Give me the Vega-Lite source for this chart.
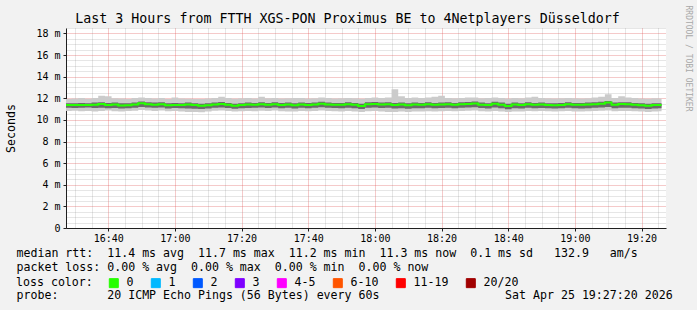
{
  "$schema": "https://vega.github.io/schema/vega-lite/v6.json",
  "width": 600,
  "height": 200,
  "autosize": {"type": "none"},
  "padding": {"left": 66, "top": 28, "right": 31, "bottom": 82},
  "background": "#f2f2f2",
  "config": {
    "view": {"fill": "#ffffff", "stroke": null},
    "axis": {"labelFont": "DejaVu Sans Mono", "labelOverlap": false, "labelFontSize": 10, "labelColor": "#000000"}
  },
  "title": {
    "text": "Last 3 Hours from FTTH XGS-PON Proximus BE to 4Netplayers Düsseldorf",
    "anchor": "middle", "frame": "group", "font": "DejaVu Sans Mono", "fontSize": 13.3,
    "fontWeight": "normal", "color": "#000000", "offset": 2, "dx": -18.5, "dy": 22
  },
  "data": {"values": [
    {"t":"2026-04-25T16:27:00Z","loss":"0","med":11.38,"mn":10.82,"lo":11.12,"hi":11.55,"mx":11.93},
    {"t":"2026-04-25T16:29:00Z","loss":"0","med":11.38,"mn":10.84,"lo":11.10,"hi":11.55,"mx":11.98},
    {"t":"2026-04-25T16:31:00Z","loss":"0","med":11.38,"mn":10.80,"lo":11.12,"hi":11.57,"mx":12.03},
    {"t":"2026-04-25T16:33:00Z","loss":"0","med":11.38,"mn":10.82,"lo":11.15,"hi":11.55,"mx":11.96},
    {"t":"2026-04-25T16:35:00Z","loss":"0","med":11.40,"mn":10.77,"lo":11.10,"hi":11.60,"mx":12.03},
    {"t":"2026-04-25T16:37:00Z","loss":"0","med":11.47,"mn":10.82,"lo":11.12,"hi":11.63,"mx":12.23},
    {"t":"2026-04-25T16:39:00Z","loss":"0","med":11.38,"mn":10.87,"lo":11.08,"hi":11.57,"mx":12.18},
    {"t":"2026-04-25T16:41:00Z","loss":"0","med":11.42,"mn":10.80,"lo":11.10,"hi":11.60,"mx":12.00},
    {"t":"2026-04-25T16:43:00Z","loss":"0","med":11.33,"mn":10.77,"lo":11.05,"hi":11.53,"mx":11.98},
    {"t":"2026-04-25T16:45:00Z","loss":"0","med":11.36,"mn":10.82,"lo":11.08,"hi":11.55,"mx":11.93},
    {"t":"2026-04-25T16:47:00Z","loss":"0","med":11.43,"mn":10.84,"lo":11.12,"hi":11.61,"mx":12.03},
    {"t":"2026-04-25T16:49:00Z","loss":"0","med":11.55,"mn":10.92,"lo":11.20,"hi":11.70,"mx":12.08},
    {"t":"2026-04-25T16:51:00Z","loss":"0","med":11.45,"mn":10.87,"lo":11.15,"hi":11.63,"mx":12.03},
    {"t":"2026-04-25T16:53:00Z","loss":"0","med":11.40,"mn":10.82,"lo":11.12,"hi":11.60,"mx":11.98},
    {"t":"2026-04-25T16:55:00Z","loss":"0","med":11.45,"mn":10.87,"lo":11.15,"hi":11.63,"mx":12.03},
    {"t":"2026-04-25T16:57:00Z","loss":"0","med":11.35,"mn":10.80,"lo":11.05,"hi":11.55,"mx":11.93},
    {"t":"2026-04-25T16:59:00Z","loss":"0","med":11.38,"mn":10.82,"lo":11.10,"hi":11.57,"mx":12.08},
    {"t":"2026-04-25T17:01:00Z","loss":"0","med":11.38,"mn":10.77,"lo":11.08,"hi":11.55,"mx":11.98},
    {"t":"2026-04-25T17:03:00Z","loss":"0","med":11.42,"mn":10.72,"lo":11.05,"hi":11.60,"mx":11.96},
    {"t":"2026-04-25T17:05:00Z","loss":"0","med":11.38,"mn":10.74,"lo":11.02,"hi":11.55,"mx":11.93},
    {"t":"2026-04-25T17:07:00Z","loss":"0","med":11.30,"mn":10.70,"lo":11.00,"hi":11.50,"mx":11.93},
    {"t":"2026-04-25T17:09:00Z","loss":"0","med":11.35,"mn":10.77,"lo":11.05,"hi":11.53,"mx":11.98},
    {"t":"2026-04-25T17:11:00Z","loss":"0","med":11.43,"mn":10.84,"lo":11.12,"hi":11.60,"mx":12.03},
    {"t":"2026-04-25T17:13:00Z","loss":"0","med":11.48,"mn":10.87,"lo":11.15,"hi":11.65,"mx":12.13},
    {"t":"2026-04-25T17:15:00Z","loss":"0","med":11.40,"mn":10.82,"lo":11.10,"hi":11.57,"mx":12.03},
    {"t":"2026-04-25T17:17:00Z","loss":"0","med":11.30,"mn":10.77,"lo":11.02,"hi":11.50,"mx":11.96},
    {"t":"2026-04-25T17:19:00Z","loss":"0","med":11.38,"mn":10.80,"lo":11.08,"hi":11.55,"mx":12.00},
    {"t":"2026-04-25T17:21:00Z","loss":"0","med":11.42,"mn":10.82,"lo":11.10,"hi":11.60,"mx":12.03},
    {"t":"2026-04-25T17:23:00Z","loss":"0","med":11.40,"mn":10.80,"lo":11.12,"hi":11.57,"mx":11.98},
    {"t":"2026-04-25T17:25:00Z","loss":"0","med":11.45,"mn":10.84,"lo":11.15,"hi":11.63,"mx":12.13},
    {"t":"2026-04-25T17:27:00Z","loss":"0","med":11.40,"mn":10.82,"lo":11.10,"hi":11.57,"mx":12.00},
    {"t":"2026-04-25T17:29:00Z","loss":"0","med":11.45,"mn":10.87,"lo":11.15,"hi":11.63,"mx":12.03},
    {"t":"2026-04-25T17:31:00Z","loss":"0","med":11.38,"mn":10.80,"lo":11.08,"hi":11.57,"mx":11.98},
    {"t":"2026-04-25T17:33:00Z","loss":"0","med":11.42,"mn":10.77,"lo":11.12,"hi":11.60,"mx":12.00},
    {"t":"2026-04-25T17:35:00Z","loss":"0","med":11.35,"mn":10.77,"lo":11.05,"hi":11.53,"mx":12.03},
    {"t":"2026-04-25T17:37:00Z","loss":"0","med":11.43,"mn":10.82,"lo":11.12,"hi":11.61,"mx":12.03},
    {"t":"2026-04-25T17:39:00Z","loss":"0","med":11.38,"mn":10.80,"lo":11.08,"hi":11.57,"mx":11.98},
    {"t":"2026-04-25T17:41:00Z","loss":"0","med":11.42,"mn":10.82,"lo":11.12,"hi":11.60,"mx":12.00},
    {"t":"2026-04-25T17:43:00Z","loss":"0","med":11.50,"mn":10.87,"lo":11.18,"hi":11.67,"mx":12.06},
    {"t":"2026-04-25T17:45:00Z","loss":"0","med":11.42,"mn":10.82,"lo":11.12,"hi":11.60,"mx":12.03},
    {"t":"2026-04-25T17:47:00Z","loss":"0","med":11.40,"mn":10.80,"lo":11.10,"hi":11.57,"mx":11.98},
    {"t":"2026-04-25T17:49:00Z","loss":"0","med":11.40,"mn":10.77,"lo":11.08,"hi":11.57,"mx":12.00},
    {"t":"2026-04-25T17:51:00Z","loss":"0","med":11.45,"mn":10.82,"lo":11.12,"hi":11.63,"mx":12.03},
    {"t":"2026-04-25T17:53:00Z","loss":"0","med":11.40,"mn":10.77,"lo":11.08,"hi":11.57,"mx":12.00},
    {"t":"2026-04-25T17:55:00Z","loss":"0","med":11.28,"mn":10.72,"lo":11.00,"hi":11.50,"mx":11.96},
    {"t":"2026-04-25T17:57:00Z","loss":"0","med":11.45,"mn":10.80,"lo":11.12,"hi":11.63,"mx":12.03},
    {"t":"2026-04-25T17:59:00Z","loss":"0","med":11.48,"mn":10.82,"lo":11.15,"hi":11.65,"mx":12.08},
    {"t":"2026-04-25T18:01:00Z","loss":"0","med":11.42,"mn":10.77,"lo":11.10,"hi":11.60,"mx":12.03},
    {"t":"2026-04-25T18:03:00Z","loss":"0","med":11.45,"mn":10.72,"lo":11.12,"hi":11.63,"mx":12.08},
    {"t":"2026-04-25T18:05:00Z","loss":"0","med":11.38,"mn":10.74,"lo":11.05,"hi":11.57,"mx":12.83},
    {"t":"2026-04-25T18:07:00Z","loss":"0","med":11.42,"mn":10.77,"lo":11.08,"hi":11.60,"mx":12.18},
    {"t":"2026-04-25T18:09:00Z","loss":"0","med":11.35,"mn":10.72,"lo":11.02,"hi":11.55,"mx":12.03},
    {"t":"2026-04-25T18:11:00Z","loss":"0","med":11.42,"mn":10.77,"lo":11.08,"hi":11.60,"mx":12.08},
    {"t":"2026-04-25T18:13:00Z","loss":"0","med":11.40,"mn":10.77,"lo":11.08,"hi":11.57,"mx":12.03},
    {"t":"2026-04-25T18:15:00Z","loss":"0","med":11.45,"mn":10.80,"lo":11.12,"hi":11.63,"mx":12.06},
    {"t":"2026-04-25T18:17:00Z","loss":"0","med":11.40,"mn":10.77,"lo":11.08,"hi":11.57,"mx":12.13},
    {"t":"2026-04-25T18:19:00Z","loss":"0","med":11.42,"mn":10.80,"lo":11.10,"hi":11.60,"mx":12.23},
    {"t":"2026-04-25T18:21:00Z","loss":"0","med":11.45,"mn":10.82,"lo":11.12,"hi":11.63,"mx":12.03},
    {"t":"2026-04-25T18:23:00Z","loss":"0","med":11.40,"mn":10.80,"lo":11.08,"hi":11.57,"mx":12.00},
    {"t":"2026-04-25T18:25:00Z","loss":"0","med":11.45,"mn":10.82,"lo":11.12,"hi":11.63,"mx":12.03},
    {"t":"2026-04-25T18:27:00Z","loss":"0","med":11.48,"mn":10.84,"lo":11.15,"hi":11.65,"mx":12.06},
    {"t":"2026-04-25T18:29:00Z","loss":"0","med":11.52,"mn":10.87,"lo":11.18,"hi":11.70,"mx":12.08},
    {"t":"2026-04-25T18:31:00Z","loss":"0","med":11.40,"mn":10.80,"lo":11.10,"hi":11.60,"mx":12.00},
    {"t":"2026-04-25T18:33:00Z","loss":"0","med":11.38,"mn":10.77,"lo":11.05,"hi":11.55,"mx":12.03},
    {"t":"2026-04-25T18:35:00Z","loss":"0","med":11.50,"mn":10.82,"lo":11.15,"hi":11.67,"mx":12.08},
    {"t":"2026-04-25T18:37:00Z","loss":"0","med":11.40,"mn":10.77,"lo":11.08,"hi":11.60,"mx":12.03},
    {"t":"2026-04-25T18:39:00Z","loss":"0","med":11.28,"mn":10.72,"lo":10.98,"hi":11.50,"mx":11.98},
    {"t":"2026-04-25T18:41:00Z","loss":"0","med":11.42,"mn":10.77,"lo":11.08,"hi":11.60,"mx":12.03},
    {"t":"2026-04-25T18:43:00Z","loss":"0","med":11.38,"mn":10.77,"lo":11.05,"hi":11.55,"mx":12.00},
    {"t":"2026-04-25T18:45:00Z","loss":"0","med":11.45,"mn":10.82,"lo":11.12,"hi":11.63,"mx":12.06},
    {"t":"2026-04-25T18:47:00Z","loss":"0","med":11.40,"mn":10.80,"lo":11.08,"hi":11.57,"mx":12.13},
    {"t":"2026-04-25T18:49:00Z","loss":"0","med":11.42,"mn":10.82,"lo":11.10,"hi":11.60,"mx":12.03},
    {"t":"2026-04-25T18:51:00Z","loss":"0","med":11.38,"mn":10.80,"lo":11.08,"hi":11.55,"mx":12.00},
    {"t":"2026-04-25T18:53:00Z","loss":"0","med":11.36,"mn":10.77,"lo":11.05,"hi":11.55,"mx":11.98},
    {"t":"2026-04-25T18:55:00Z","loss":"0","med":11.38,"mn":10.80,"lo":11.08,"hi":11.57,"mx":12.00},
    {"t":"2026-04-25T18:57:00Z","loss":"0","med":11.45,"mn":10.82,"lo":11.12,"hi":11.63,"mx":12.03},
    {"t":"2026-04-25T18:59:00Z","loss":"0","med":11.40,"mn":10.77,"lo":11.08,"hi":11.57,"mx":12.00},
    {"t":"2026-04-25T19:01:00Z","loss":"0","med":11.40,"mn":10.77,"lo":11.05,"hi":11.57,"mx":11.98},
    {"t":"2026-04-25T19:03:00Z","loss":"0","med":11.42,"mn":10.80,"lo":11.08,"hi":11.60,"mx":12.00},
    {"t":"2026-04-25T19:05:00Z","loss":"0","med":11.45,"mn":10.82,"lo":11.12,"hi":11.63,"mx":12.06},
    {"t":"2026-04-25T19:07:00Z","loss":"0","med":11.50,"mn":10.84,"lo":11.15,"hi":11.67,"mx":12.13},
    {"t":"2026-04-25T19:09:00Z","loss":"0","med":11.60,"mn":10.87,"lo":11.20,"hi":11.75,"mx":12.38},
    {"t":"2026-04-25T19:11:00Z","loss":"0","med":11.40,"mn":10.80,"lo":11.08,"hi":11.60,"mx":12.03},
    {"t":"2026-04-25T19:13:00Z","loss":"0","med":11.47,"mn":10.82,"lo":11.12,"hi":11.63,"mx":12.18},
    {"t":"2026-04-25T19:15:00Z","loss":"0","med":11.45,"mn":10.82,"lo":11.12,"hi":11.63,"mx":12.06},
    {"t":"2026-04-25T19:17:00Z","loss":"0","med":11.40,"mn":10.80,"lo":11.08,"hi":11.57,"mx":12.03},
    {"t":"2026-04-25T19:19:00Z","loss":"0","med":11.35,"mn":10.77,"lo":11.05,"hi":11.53,"mx":11.98},
    {"t":"2026-04-25T19:21:00Z","loss":"0","med":11.30,"mn":10.74,"lo":11.00,"hi":11.50,"mx":11.96},
    {"t":"2026-04-25T19:23:00Z","loss":"0","med":11.38,"mn":10.77,"lo":11.05,"hi":11.55,"mx":12.00},
    {"t":"2026-04-25T19:25:00Z","loss":"0","med":11.38,"mn":10.80,"lo":11.08,"hi":11.55,"mx":11.98},
    {"t":"2026-04-25T19:26:00Z","loss":"0","med":11.38,"mn":10.80,"lo":11.08,"hi":11.55,"mx":11.98}
  ]},
  "encoding": {
    "x": {
      "field": "t", "type": "temporal",
      "scale": {"type": "utc", "domain": [1777134440000, 1777145240000]},
      "axis": {
        "orient": "bottom",
        "values": [1777134600000,1777134900000,1777135200000,1777135500000,1777135800000,1777136100000,1777136400000,1777136700000,1777137000000,1777137300000,1777137600000,1777137900000,1777138200000,1777138500000,1777138800000,1777139100000,1777139400000,1777139700000,1777140000000,1777140300000,1777140600000,1777140900000,1777141200000,1777141500000,1777141800000,1777142100000,1777142400000,1777142700000,1777143000000,1777143300000,1777143600000,1777143900000,1777144200000,1777144500000,1777144800000,1777145100000],
        "labelExpr": "utcminutes(datum.value) % 20 === 0 ? utcFormat(datum.value, '%H:%M') : ''",
        "labelOverlap": false, "labelFlush": false, "labelBound": false,
        "labelFont": "DejaVu Sans Mono", "labelFontSize": 10, "labelColor": "#000000", "labelPadding": 2,
        "tickSize": 3, "tickColor": "#1f1f1f",
        "tickOpacity": {"condition": {"test": "utcminutes(datum.value) % 20 === 0", "value": 1}, "value": 0},
        "domainColor": "#1f1f1f",
        "grid": true, "gridDash": [1, 1],
        "gridColor": {"condition": {"test": "utcminutes(datum.value) % 20 === 0", "value": "#de4f4f"}, "value": "#8f8f8f"},
        "gridOpacity": {"condition": {"test": "utcminutes(datum.value) % 20 === 0", "value": 0.6}, "value": 0.45},
        "title": [
          "median rtt:\u00a0\u00a011.4 ms avg\u00a0\u00a011.7 ms max\u00a0\u00a011.2 ms min\u00a0\u00a011.3 ms now\u00a0\u00a00.1 ms sd\u00a0\u00a0\u00a0132.9\u00a0\u00a0\u00a0am/s",
          "packet loss: 0.00 % avg\u00a0\u00a00.00 % max\u00a0\u00a00.00 % min\u00a0\u00a00.00 % now",
          "\u200b",
          "probe:\u00a0\u00a0\u00a0\u00a0\u00a0\u00a0\u00a020 ICMP Echo Pings (56 Bytes) every 60s\u00a0\u00a0\u00a0\u00a0\u00a0\u00a0\u00a0\u00a0\u00a0\u00a0\u00a0\u00a0\u00a0\u00a0\u00a0\u00a0\u00a0\u00a0Sat Apr 25 19:27:20 2026"
        ],
        "titleFont": "DejaVu Sans Mono", "titleFontSize": 11.6, "titleFontWeight": "normal", "titleColor": "#000000",
        "titleAnchor": "start", "titleAlign": "left", "titleBaseline": "alphabetic",
        "titleX": -50, "titleY": 28.5, "titleLineHeight": 14, "titleAngle": 0
      }
    }
  },
  "layer": [
    {
      "mark": {"type": "area", "interpolate": "step-after", "color": "#cbcbcb", "clip": true},
      "encoding": {
        "y": {
          "field": "mn", "type": "quantitative",
          "scale": {"domain": [0, 18.5], "nice": false},
          "axis": {
            "orient": "left",
            "values": [0,0.5,1,1.5,2,2.5,3,3.5,4,4.5,5,5.5,6,6.5,7,7.5,8,8.5,9,9.5,10,10.5,11,11.5,12,12.5,13,13.5,14,14.5,15,15.5,16,16.5,17,17.5,18,18.5],
            "labelExpr": "datum.value === 0 ? '0\u00a0\u00a0' : (datum.value % 2 === 0 ? datum.value + ' m' : '')",
            "labelFont": "DejaVu Sans Mono", "labelFontSize": 10, "labelColor": "#000000", "labelPadding": 3,
            "labelOverlap": false, "labelFlush": false, "labelBound": false,
            "tickSize": 3, "tickColor": "#1f1f1f",
            "tickOpacity": {"condition": {"test": "datum.value % 2 === 0", "value": 1}, "value": 0},
            "domainColor": "#1f1f1f",
            "grid": true, "gridDash": [1, 1],
            "gridColor": {"condition": {"test": "datum.value % 2 === 0", "value": "#de4f4f"}, "value": "#8f8f8f"},
            "gridOpacity": {"condition": {"test": "datum.value % 2 === 0", "value": 0.6}, "value": 0.45},
            "title": "Seconds",
            "titleFont": "DejaVu Sans Mono", "titleFontSize": 11.6, "titleFontWeight": "normal", "titleColor": "#000000",
            "titleAngle": -90, "titleAlign": "center", "titleBaseline": "middle",
            "titleX": -55, "titleY": 100
          }
        },
        "y2": {"field": "mx"}
      }
    },
    {
      "mark": {"type": "area", "interpolate": "step-after", "color": "#6a6a6a", "clip": true},
      "encoding": {
        "y": {"field": "lo", "type": "quantitative", "axis": null},
        "y2": {"field": "hi"}
      }
    },
    {
      "mark": {"type": "line", "interpolate": "step-after", "strokeWidth": 2, "clip": true},
      "encoding": {
        "y": {
          "field": "med", "type": "quantitative",
          "axis": {
            "orient": "right", "labels": false, "ticks": false, "domain": false, "grid": false,
            "title": "RRDTOOL / TOBI OETIKER",
            "titleFont": "DejaVu Sans Mono", "titleFontSize": 8, "titleFontWeight": "normal", "titleColor": "#a8a8a8",
            "titleAngle": 90, "titleAlign": "left", "titleBaseline": "middle",
            "titleX": 21.5, "titleY": -23
          }
        },
        "color": {
          "field": "loss", "type": "nominal",
          "scale": {
            "domain": ["0", "1", "2", "3", "4-5", "6-10", "11-19", "20/20"],
            "range": ["#26ff00", "#00b8ff", "#0059ff", "#7e00ff", "#ff00ff", "#ff5500", "#ff0000", "#a10000"]
          },
          "legend": {
            "orient": "none", "legendX": -50, "legendY": 249,
            "direction": "horizontal",
            "title": "loss color:", "titleOrient": "left",
            "titleFont": "DejaVu Sans Mono", "titleFontSize": 11.6, "titleFontWeight": "normal", "titleColor": "#000000",
            "titlePadding": 15,
            "labelFont": "DejaVu Sans Mono", "labelFontSize": 11.6, "labelColor": "#000000",
            "labelOffset": 7, "columnPadding": 15,
            "symbolType": "square", "symbolSize": 81, "symbolStrokeWidth": 1, "symbolStrokeColor": "#000000", "symbolOpacity": 1,
            "encode": {"symbols": {"update": {
              "fill": {"scale": "color", "field": "value"},
              "stroke": {"value": "#000000"},
              "strokeWidth": {"value": 1},
              "shape": {"value": "square"},
              "opacity": {"value": 1}
            }}}
          }
        }
      }
    }
  ],
  "resolve": {"axis": {"y": "independent"}}
}
